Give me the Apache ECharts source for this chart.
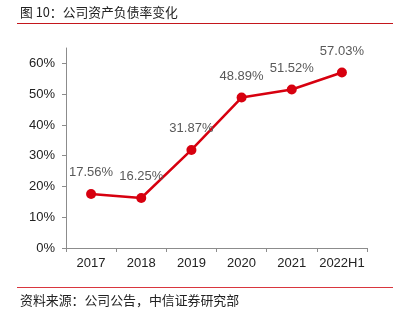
<!DOCTYPE html>
<html>
<head>
<meta charset="utf-8">
<script src="https://cdn.jsdelivr.net/npm/echarts@6/dist/echarts.min.js"></script>
<style>
  html, body { margin: 0; padding: 0; background: #fff; }
  #chart { width: 397px; height: 321px; }
</style>
</head>
<body>
<div id="chart"></div>
<script>
// Debt-to-asset ratio by period (%)
const categories = ['2017', '2018', '2019', '2020', '2021', '2022H1'];
const debtRatio = [17.56, 16.25, 31.87, 48.89, 51.52, 57.03];
const yTicks = [0, 10, 20, 30, 40, 50, 60];

const titleText = '图 10：公司资产负债率变化';
const sourceText = '资料来源：公司公告，中信证券研究部';

const chart = echarts.init(document.getElementById('chart'), null, { renderer: 'canvas' });

const fontFamily = '"Liberation Sans", Arial, "Noto Sans CJK SC", sans-serif';
const cjkFont = '"Noto Sans CJK SC", "Liberation Sans", sans-serif';

chart.setOption({
  animation: false,
  backgroundColor: '#ffffff',
  grid: { left: 66, right: 30, top: 48, bottom: 73, containLabel: false },
  graphic: [
    {
      type: 'text', left: 20, top: 6,
      style: { text: titleText, fill: '#222', font: '12.8px ' + cjkFont }
    },
    {
      type: 'line',
      shape: { x1: 17, y1: 23.5, x2: 393, y2: 23.5 },
      style: { stroke: '#c4161c', lineWidth: 1.2 }
    },
    {
      type: 'line',
      shape: { x1: 17, y1: 287.5, x2: 393, y2: 287.5 },
      style: { stroke: '#d9363e', lineWidth: 1 }
    },
    {
      type: 'text', left: 20, top: 294,
      style: { text: sourceText, fill: '#222', font: '12.9px ' + cjkFont }
    }
  ],
  xAxis: {
    type: 'category',
    data: categories,
    boundaryGap: true,
    axisLine: { lineStyle: { color: '#8c8c8c', width: 1 } },
    axisTick: { show: true, length: 4, interval: 0, lineStyle: { color: '#8c8c8c' } },
    axisLabel: { interval: 0, color: '#222', fontSize: 13, fontFamily: fontFamily, margin: 9 }
  },
  yAxis: {
    type: 'value',
    min: 0,
    max: 65,
    interval: 5,
    splitLine: { show: false },
    axisLine: { show: true, lineStyle: { color: '#8c8c8c', width: 1 } },
    axisTick: { show: true, length: 4, customValues: yTicks, lineStyle: { color: '#8c8c8c' } },
    axisLabel: {
      color: '#222', fontSize: 13, fontFamily: fontFamily, margin: 11,
      customValues: yTicks,
      formatter: v => v + '%'
    }
  },
  series: [{
    type: 'line',
    data: debtRatio,
    symbol: 'circle',
    symbolSize: 10,
    lineStyle: { color: '#d7000f', width: 2.5 },
    itemStyle: { color: '#d7000f' },
    label: {
      show: true,
      position: 'top',
      distance: 10,
      color: '#595959',
      fontSize: 13,
      fontFamily: fontFamily,
      formatter: p => p.value.toFixed(2) + '%'
    }
  }]
});
</script>
</body>
</html>
